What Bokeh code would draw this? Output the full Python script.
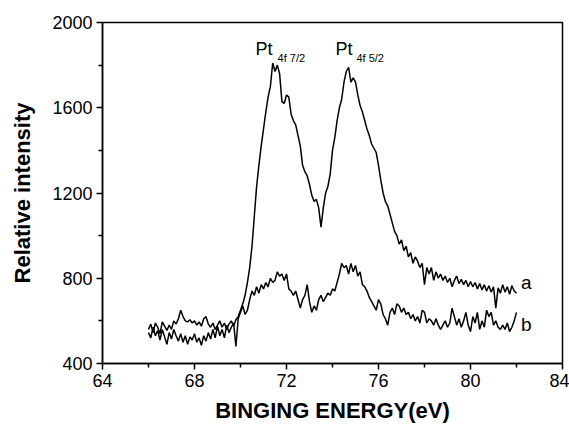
import numpy as np
from bokeh.plotting import figure
from bokeh.models import FixedTicker, Label, Range1d
from bokeh.embed import file_html
from bokeh.resources import INLINE

# Binding energy grid (eV) and intensities
energy = np.round(np.arange(660, 821) / 10.0, 1)

intensity_a = [
    560, 585, 545, 590, 570, 540, 595, 575, 555, 580,
    560, 600, 585, 610, 650, 620, 600, 595, 605, 590,
    600, 580, 595, 575, 610, 620, 585, 570, 590, 560,
    580, 600, 570, 590, 560, 585, 600, 575, 605,
    620, 650, 680, 720, 780, 850, 950, 1090, 1230, 1330,
    1420, 1500, 1580, 1650, 1700, 1810, 1770, 1800, 1760, 1630,
    1620, 1660, 1650, 1570, 1540, 1520, 1470, 1420, 1330, 1300,
    1280, 1240, 1190, 1160, 1170, 1130, 1040, 1130, 1200, 1230,
    1290, 1400, 1460, 1540, 1600, 1640, 1720, 1770, 1790, 1720,
    1740, 1720, 1660, 1610, 1580, 1540, 1500, 1470, 1430, 1410,
    1390, 1330, 1260, 1200, 1160, 1140, 1100, 1060, 1020, 1000,
    960, 980, 930, 950, 900, 920, 870, 900, 880, 850,
    870, 770, 850, 820, 850, 790, 830, 800, 820, 790,
    810, 780, 800, 760, 790, 810, 775, 795, 770, 790,
    760, 785, 760, 780, 750, 775, 745, 770, 740, 765,
    735, 760, 660, 755, 730, 770, 735, 760, 725, 765,
    740, 730,
]

intensity_b = [
    545, 520, 570, 530, 555, 510, 560, 525, 490, 545,
    515, 560, 530, 505, 540, 500, 530, 490, 525, 510,
    540, 500, 520, 485, 530, 505, 545, 515, 560, 520,
    575, 530, 560, 520, 580, 545, 570, 590, 480,
    610, 640, 670, 630, 650, 700, 740, 720, 760, 730,
    770, 750, 780, 760, 800, 780, 790, 830, 810, 820,
    790, 820, 750, 740, 720, 740, 700, 660, 700, 720,
    770, 690, 640, 670, 650, 700, 720, 690, 710, 730,
    720, 750, 740, 780, 820, 870, 850, 860, 820, 870,
    830, 860, 810, 830, 770, 760, 740, 710, 690, 670,
    650, 700, 680, 630, 610, 580, 640, 660, 630, 680,
    670, 640, 660, 630, 640, 610, 630, 600, 620, 590,
    650, 640, 590, 610, 600, 580, 610, 580, 560, 580,
    600, 570, 590, 660, 620, 580, 610, 570, 600, 640,
    580, 550, 620, 590, 640, 560, 600, 570, 650, 620,
    640, 580, 600, 570, 560, 580, 560, 590, 550, 570,
    600, 640,
]

x_ticks = [64, 68, 72, 76, 80, 84]
y_ticks = [400, 800, 1200, 1600, 2000]

assert len(energy) == len(intensity_a) == len(intensity_b)

FONT = "Liberation Sans"

p = figure(width=569, height=425, output_backend="svg", toolbar_location=None,
           x_range=Range1d(x_ticks[0], x_ticks[-1]),
           y_range=Range1d(y_ticks[0], y_ticks[-1]),
           min_border_left=102, min_border_right=7, min_border_top=22,
           min_border_bottom=60)

p.line(energy, intensity_a, line_color="black", line_width=1.5)
p.line(energy, intensity_b, line_color="black", line_width=1.5)

p.grid.visible = False
p.background_fill_color = "white"
p.border_fill_color = "white"
p.outline_line_color = "black"
p.outline_line_width = 1.5
p.outline_line_alpha = 1.0

x_minor = [(a + b) / 2 for a, b in zip(x_ticks[:-1], x_ticks[1:])]
y_minor = [(a + b) / 2 for a, b in zip(y_ticks[:-1], y_ticks[1:])]
p.xaxis.ticker = FixedTicker(ticks=x_ticks, minor_ticks=x_minor)
p.yaxis.ticker = FixedTicker(ticks=y_ticks, minor_ticks=y_minor)

for ax in (p.xaxis[0], p.yaxis[0]):
    ax.axis_line_color = "black"
    ax.axis_line_width = 1.5
    ax.major_tick_line_color = "black"
    ax.major_tick_line_width = 1.5
    ax.minor_tick_line_color = "black"
    ax.minor_tick_line_width = 1.5
    ax.major_tick_out = 6
    ax.major_tick_in = 0
    ax.minor_tick_out = 4
    ax.minor_tick_in = 0
    ax.major_label_text_font = FONT
    ax.major_label_text_font_size = "18px"
    ax.major_label_text_color = "black"
    ax.axis_label_text_font = FONT
    ax.axis_label_text_font_size = "22px"
    ax.axis_label_text_font_style = "bold"
    ax.axis_label_text_color = "black"

p.xaxis.axis_label = "BINGING ENERGY(eV)"
p.yaxis.axis_label = "Relative intensity"
p.xaxis.major_label_standoff = 4
p.xaxis.axis_label_standoff = 8
p.yaxis.major_label_standoff = 4
p.yaxis.axis_label_standoff = 14

# Peak annotations
for xx, yy, txt, size in [(70.65, 1878, "Pt", "18px"), (71.61, 1832, "4f 7/2", "11px"),
                          (74.13, 1878, "Pt", "18px"), (75.04, 1832, "4f 5/2", "11px")]:
    p.add_layout(Label(x=xx, y=yy, text=txt, text_font=FONT, text_font_size=size,
                       text_color="black", text_baseline="alphabetic"))

# Curve labels
p.add_layout(Label(x=82.2, y=782, text="a", text_font=FONT, text_font_size="19px",
                   text_color="black", text_baseline="middle"))
p.add_layout(Label(x=82.2, y=583, text="b", text_font=FONT, text_font_size="19px",
                   text_color="black", text_baseline="middle"))

open("out.html", "w").write(file_html(p, INLINE))
